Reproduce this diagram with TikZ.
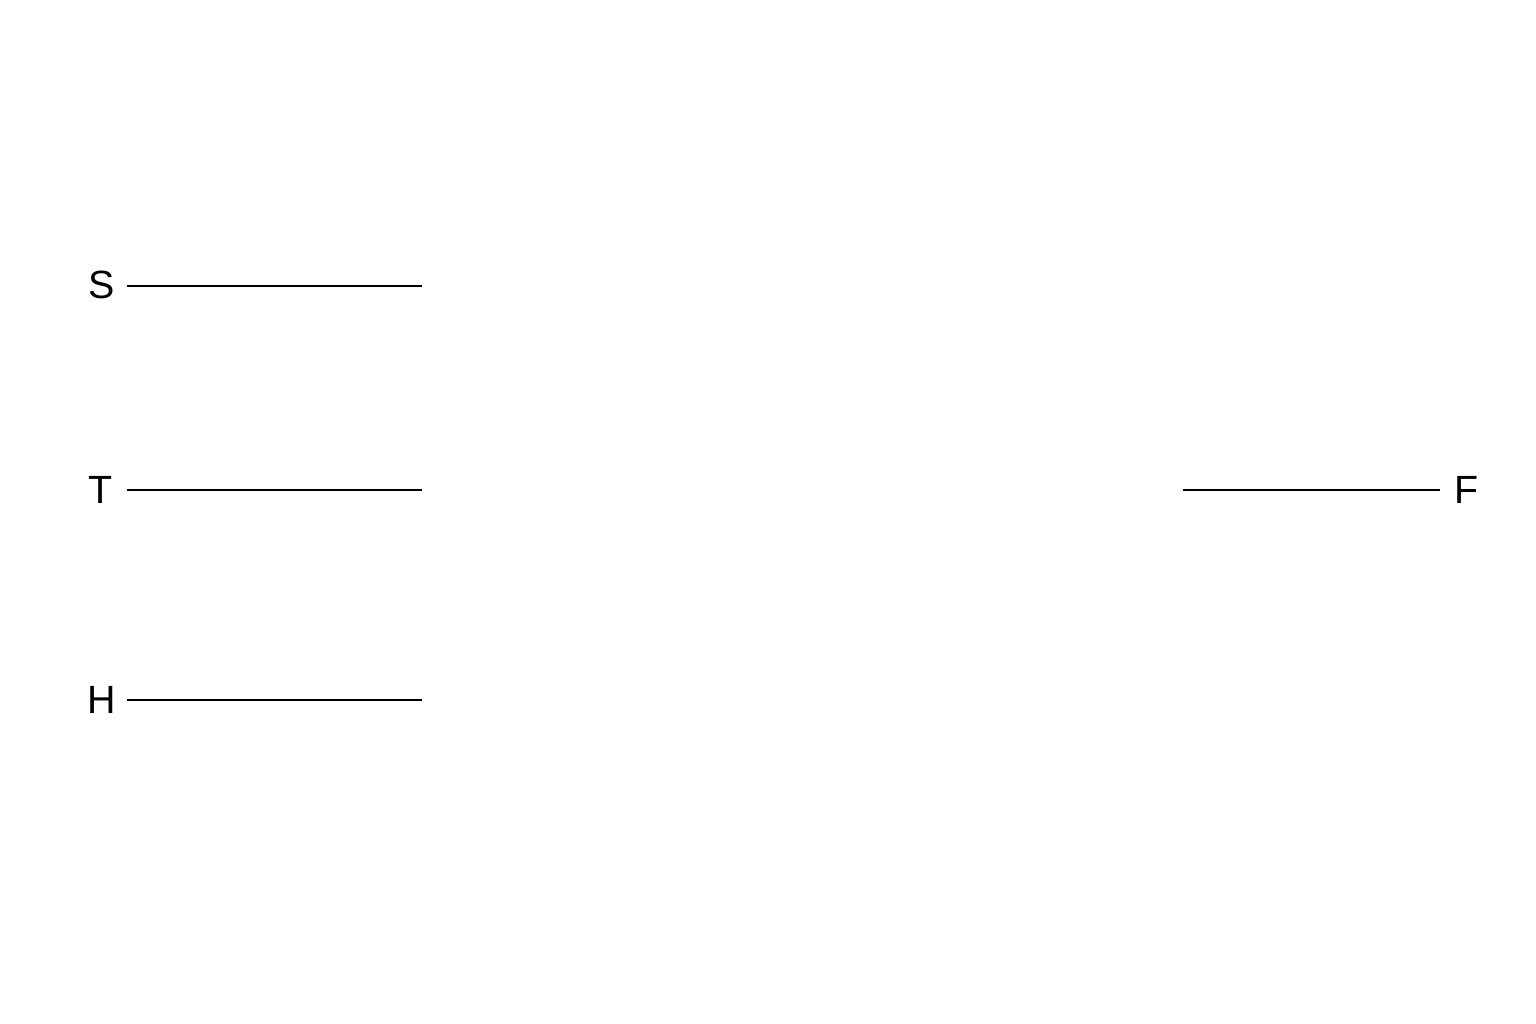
\documentclass[tikz,border=0pt]{standalone}
\usepackage{fontspec}
\setmainfont{Liberation Sans}
\begin{document}
\begin{tikzpicture}[x=0.01cm,y=-0.01cm,
  lbl/.style={inner sep=0pt,anchor=base west,font=\fontsize{11.2}{13}\selectfont},
  wire/.style={line width=0.7pt,black}]
\useasboundingbox[fill=white] (0,0) rectangle (1536,1024);
\node[lbl] (S) at (88,298) {S};
\node[lbl] (T) at (88,503) {T};
\node[lbl] (H) at (87,713) {H};
\node[lbl] (F) at (1454,503) {F};
\coordinate (s1) at (127,286); \coordinate (s2) at (422,286);
\coordinate (t1) at (127,490); \coordinate (t2) at (422,490);
\coordinate (h1) at (127,700); \coordinate (h2) at (422,700);
\coordinate (f1) at (1183,490); \coordinate (f2) at (1440,490);
\draw[wire] (s1) -- (s2);
\draw[wire] (t1) -- (t2);
\draw[wire] (h1) -- (h2);
\draw[wire] (f1) -- (f2);
\end{tikzpicture}
\end{document}
